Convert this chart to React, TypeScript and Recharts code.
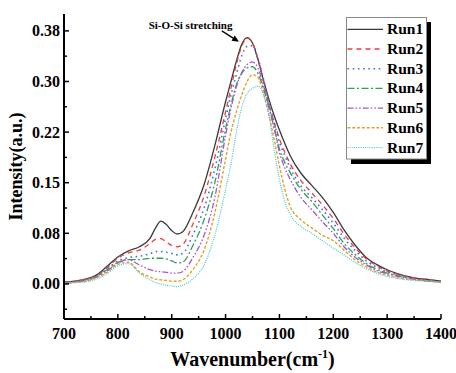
import React from 'react';
import { LineChart, Line, XAxis, YAxis, Legend, ReferenceLine, ReferenceDot } from 'recharts';

const wavenumbers = [700, 720, 740, 760, 780, 800, 820, 840, 860, 870, 880, 890, 900, 910, 920, 940, 960, 980, 1000, 1010, 1020, 1030, 1040, 1050, 1060, 1070, 1080, 1090, 1100, 1110, 1120, 1140, 1160, 1180, 1200, 1220, 1240, 1260, 1280, 1300, 1320, 1350, 1380, 1400];

const run1 = [0.003, 0.004, 0.007, 0.013, 0.026, 0.040, 0.049, 0.055, 0.068, 0.083, 0.093, 0.088, 0.079, 0.074, 0.077, 0.107, 0.147, 0.205, 0.270, 0.300, 0.330, 0.355, 0.365, 0.357, 0.333, 0.303, 0.275, 0.250, 0.228, 0.208, 0.190, 0.164, 0.146, 0.128, 0.106, 0.080, 0.058, 0.040, 0.029, 0.021, 0.015, 0.009, 0.006, 0.004];
const run2 = [0.003, 0.004, 0.007, 0.012, 0.024, 0.038, 0.046, 0.050, 0.060, 0.066, 0.067, 0.062, 0.057, 0.055, 0.058, 0.090, 0.130, 0.188, 0.255, 0.290, 0.325, 0.352, 0.364, 0.357, 0.333, 0.300, 0.268, 0.240, 0.215, 0.195, 0.178, 0.153, 0.135, 0.117, 0.097, 0.074, 0.054, 0.038, 0.027, 0.019, 0.014, 0.009, 0.006, 0.004];
const run3 = [0.002, 0.003, 0.006, 0.011, 0.022, 0.034, 0.039, 0.041, 0.045, 0.048, 0.048, 0.047, 0.045, 0.043, 0.045, 0.074, 0.112, 0.170, 0.245, 0.280, 0.310, 0.338, 0.352, 0.353, 0.335, 0.305, 0.270, 0.240, 0.210, 0.190, 0.172, 0.145, 0.128, 0.110, 0.090, 0.068, 0.050, 0.035, 0.025, 0.018, 0.013, 0.008, 0.005, 0.003];
const run4 = [0.002, 0.003, 0.006, 0.011, 0.021, 0.032, 0.036, 0.036, 0.038, 0.038, 0.038, 0.037, 0.034, 0.031, 0.032, 0.058, 0.095, 0.150, 0.230, 0.265, 0.295, 0.312, 0.320, 0.322, 0.312, 0.290, 0.262, 0.232, 0.200, 0.180, 0.165, 0.140, 0.122, 0.102, 0.082, 0.060, 0.044, 0.031, 0.022, 0.016, 0.012, 0.007, 0.004, 0.003];
const run5 = [0.002, 0.003, 0.005, 0.010, 0.019, 0.031, 0.036, 0.028, 0.021, 0.019, 0.018, 0.017, 0.016, 0.016, 0.018, 0.040, 0.072, 0.128, 0.220, 0.260, 0.292, 0.313, 0.325, 0.329, 0.320, 0.295, 0.265, 0.232, 0.195, 0.172, 0.155, 0.128, 0.110, 0.092, 0.075, 0.055, 0.040, 0.029, 0.020, 0.015, 0.011, 0.007, 0.004, 0.003];
const run6 = [0.001, 0.002, 0.004, 0.009, 0.017, 0.029, 0.032, 0.018, 0.010, 0.007, 0.006, 0.005, 0.004, 0.004, 0.006, 0.022, 0.050, 0.105, 0.185, 0.225, 0.255, 0.280, 0.300, 0.310, 0.306, 0.283, 0.252, 0.215, 0.175, 0.140, 0.115, 0.095, 0.083, 0.072, 0.064, 0.050, 0.036, 0.026, 0.018, 0.013, 0.009, 0.006, 0.004, 0.002];
const run7 = [0.001, 0.002, 0.003, 0.007, 0.015, 0.027, 0.030, 0.016, 0.006, 0.002, 0.000, -0.002, -0.003, -0.004, -0.002, 0.008, 0.028, 0.072, 0.140, 0.178, 0.225, 0.262, 0.282, 0.290, 0.293, 0.282, 0.252, 0.200, 0.155, 0.122, 0.103, 0.085, 0.075, 0.064, 0.053, 0.043, 0.032, 0.023, 0.016, 0.011, 0.008, 0.005, 0.004, 0.003];

const seriesNames = ['Run1', 'Run2', 'Run3', 'Run4', 'Run5', 'Run6', 'Run7'];
const seriesValues = [run1, run2, run3, run4, run5, run6, run7];

const xMajorTicks = [700, 800, 900, 1000, 1100, 1200, 1300, 1400];
const xMinorTicks = [750, 850, 950, 1050, 1150, 1250, 1350];
const yMajorTicks = [0, 0.075, 0.15, 0.225, 0.3, 0.375];
const yMajorLabels = ['0.00', '0.08', '0.15', '0.22', '0.30', '0.38'];
const yMinorTicks = [-0.0375, 0.0375, 0.1125, 0.1875, 0.2625, 0.3375];

const annotationText = 'Si-O-Si stretching';
const annotationAt = { x: 935, y: 0.378 };
const arrowFrom = { x: 993, y: 0.375 };
const arrowTo = { x: 1025, y: 0.3587 };

const styles = [
  { color: '#3a3a3a', dash: undefined, width: 1.3 },
  { color: '#f03c3c', dash: '5 4', width: 1.3 },
  { color: '#4172d6', dash: '1.6 3.6', width: 1.6 },
  { color: '#2e9e58', dash: '7 2.5 2 2.5', width: 1.3 },
  { color: '#a455d4', dash: '6 2 1.6 2 1.6 2', width: 1.3 },
  { color: '#e2a12a', dash: '3 1.8', width: 1.4 },
  { color: '#3fc6d2', dash: '1 1.2', width: 1.2 },
];

const data = wavenumbers.map((x, i) => {
  const row: Record<string, number> = { x };
  seriesNames.forEach((n, k) => {
    row[n] = seriesValues[k][i];
  });
  return row;
});

const FONT = '"Liberation Serif", "Times New Roman", serif';

const XTick = (props: any) => {
  const { x, y, payload } = props;
  const v = payload.value;
  const major = xMajorTicks.includes(v);
  return (
    <g>
      <line x1={x} x2={x} y1={y} y2={y - (major ? 5 : 3)} stroke="#000" strokeWidth={1.5} />
      {major && (
        <text x={x} y={y + 19.5} textAnchor="middle" fontFamily={FONT} fontWeight="bold" fontSize={16} fill="#000">
          {v}
        </text>
      )}
    </g>
  );
};

const YTick = (props: any) => {
  const { x, y, payload } = props;
  const v = payload.value;
  const idx = yMajorTicks.findIndex((t) => Math.abs(t - v) < 1e-9);
  const major = idx >= 0;
  return (
    <g>
      <line x1={x} x2={x + (major ? 5 : 3)} y1={y} y2={y} stroke="#000" strokeWidth={1.5} />
      {major && (
        <text x={x - 4} y={y + 5.5} textAnchor="end" fontFamily={FONT} fontWeight="bold" fontSize={16} fill="#000">
          {yMajorLabels[idx]}
        </text>
      )}
    </g>
  );
};

const XTitle = (props: any) => {
  const vb = props.viewBox || { x: 64, y: 319, width: 377, height: 54 };
  return (
    <text x={vb.x + vb.width / 2} y={vb.y + 47} textAnchor="middle" fontFamily={FONT} fontWeight="bold" fontSize={20} fill="#000">
      Wavenumber(cm<tspan dy={-8} fontSize={12}>-1</tspan><tspan dy={8}>)</tspan>
    </text>
  );
};

const YTitle = (props: any) => {
  const vb = props.viewBox || { x: 0, y: 14, width: 64, height: 305 };
  const cx = vb.x + 22;
  const cy = vb.y + vb.height / 2;
  return (
    <text x={cx} y={cy} transform={`rotate(-90 ${cx} ${cy})`} textAnchor="middle" fontFamily={FONT} fontWeight="bold" fontSize={18} fill="#000">
      Intensity(a.u.)
    </text>
  );
};

const ArrowShape = (props: any) => {
  const { x1, y1, x2, y2 } = props;
  if ([x1, y1, x2, y2].some((v) => typeof v !== 'number' || isNaN(v))) return <g />;
  const ang = Math.atan2(y2 - y1, x2 - x1);
  const len = 7;
  const w = 3;
  const bx = x2 - len * Math.cos(ang);
  const by = y2 - len * Math.sin(ang);
  const px = -Math.sin(ang) * w;
  const py = Math.cos(ang) * w;
  return (
    <g>
      <line x1={x1} y1={y1} x2={bx} y2={by} stroke="#000" strokeWidth={1.3} />
      <polygon points={`${x2},${y2} ${bx + px},${by + py} ${bx - px},${by - py}`} fill="#000" />
    </g>
  );
};

const AnnotationShape = (props: any) => {
  const { cx, cy } = props;
  return (
    <text x={cx} y={cy} textAnchor="middle" fontFamily={FONT} fontWeight="bold" fontSize={11} fill="#000">
      {annotationText}
    </text>
  );
};

const LegendBox = () => {
  const rowH = 19.7;
  const top = 12.3;
  return (
    <svg width={88} height={150} style={{ display: 'block', overflow: 'visible' }}>
      <rect x={5} y={5} width={80} height={142} fill="#000" />
      <rect x={0.5} y={0.5} width={80} height={141.5} fill="#fff" stroke="#8a8a8a" strokeWidth={1} />
      {seriesNames.map((n, i) => {
        const cy = top + i * rowH;
        const s = styles[i];
        return (
          <g key={n}>
            <line x1={1.5} x2={37} y1={cy} y2={cy} stroke={s.color} strokeWidth={s.width} strokeDasharray={s.dash} />
            <text x={41} y={cy + 5} fontFamily={FONT} fontWeight="bold" fontSize={15.5} fill="#000">
              {n}
            </text>
          </g>
        );
      })}
    </svg>
  );
};

export default function App() {
  return (
    <div style={{ position: 'absolute', left: 0, top: 0, width: 456, height: 373, background: '#fff' }}>
      <LineChart width={456} height={373} data={data} margin={{ top: 14, right: 15, bottom: 0, left: 0 }}>
        <XAxis
          dataKey="x"
          type="number"
          domain={[700, 1400]}
          ticks={[...xMajorTicks, ...xMinorTicks].sort((a, b) => a - b)}
          interval={0}
          tickSize={0}
          tickMargin={0}
          tickLine={false}
          tick={<XTick />}
          height={54}
          axisLine={{ stroke: '#000', strokeWidth: 2 }}
          label={<XTitle />}
          allowDataOverflow
        />
        <XAxis xAxisId="top" orientation="top" type="number" dataKey="x" domain={[700, 1400]} height={0} tick={false} tickLine={false} axisLine={{ stroke: '#000', strokeWidth: 2 }} />
        <YAxis
          type="number"
          domain={[-0.052, 0.4]}
          ticks={[...yMajorTicks, ...yMinorTicks].sort((a, b) => a - b)}
          interval={0}
          tickSize={0}
          tickMargin={0}
          tickLine={false}
          tick={<YTick />}
          width={64}
          axisLine={{ stroke: '#000', strokeWidth: 2 }}
          label={<YTitle />}
          allowDataOverflow
        />
        <YAxis yAxisId="right" orientation="right" type="number" domain={[-0.052, 0.4]} width={0} tick={false} tickLine={false} axisLine={{ stroke: '#000', strokeWidth: 2 }} />
        {seriesNames.map((n, i) => (
          <Line
            key={n}
            type="monotone"
            dataKey={n}
            name={n}
            stroke={styles[i].color}
            strokeWidth={styles[i].width}
            strokeDasharray={styles[i].dash}
            dot={false}
            activeDot={false}
            isAnimationActive={false}
          />
        ))}
        <ReferenceLine segment={[arrowFrom, arrowTo]} shape={ArrowShape} ifOverflow="visible" />
        <ReferenceDot x={annotationAt.x} y={annotationAt.y} r={0} shape={AnnotationShape} ifOverflow="visible" />
        <Legend
          layout="vertical"
          align="center"
          verticalAlign="middle"
          content={<LegendBox />}
          wrapperStyle={{ left: 346, top: 17, width: 88, height: 150 }}
        />
      </LineChart>
    </div>
  );
}
